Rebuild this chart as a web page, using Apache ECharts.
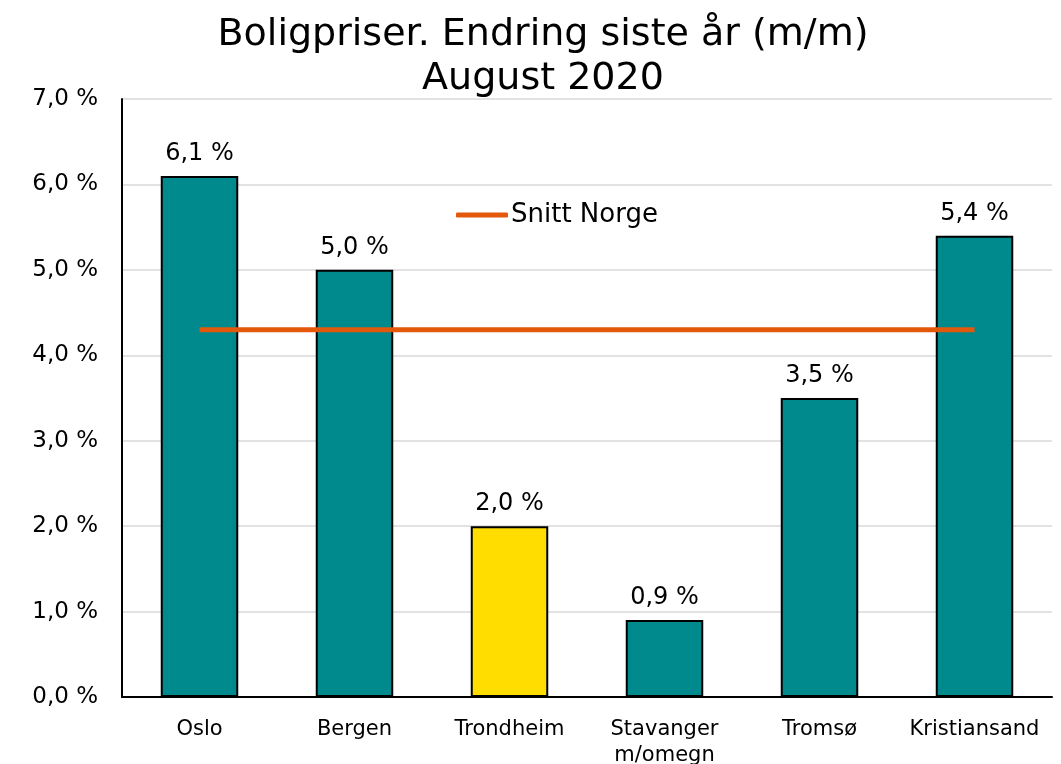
<!DOCTYPE html>
<html>
<head>
<meta charset="utf-8">
<script src="https://cdn.jsdelivr.net/npm/echarts@6/dist/echarts.min.js"></script>
<style>
  html, body { margin: 0; padding: 0; background: #fff; }
  #chart { width: 1061px; height: 764px; }
</style>
</head>
<body>
<div id="chart"></div>
<script>
const categories = ['Oslo', 'Bergen', 'Trondheim', 'Stavanger\nm/omegn', 'Tromsø', 'Kristiansand'];
const priceChange = [6.1, 5.0, 2.0, 0.9, 3.5, 5.4];
const averageNorway = [4.3, 4.3, 4.3, 4.3, 4.3, 4.3];
const highlighted = 'Trondheim';

const font = 'DejaVu Sans, Verdana, sans-serif';
const teal = '#008A8E';
const yellow = '#FFDD00';
const orange = '#E4580C';

function pct(v) {
  return v.toFixed(1).replace('.', ',') + ' %';
}

const chart = echarts.init(document.getElementById('chart'));

chart.setOption({
  animation: false,
  backgroundColor: '#fff',
  title: {
    text: 'Boligpriser. Endring siste år (m/m)\nAugust 2020',
    left: 538,
    textAlign: 'center',
    top: 8,
    textStyle: {
      fontFamily: font,
      fontSize: 38,
      fontWeight: 'normal',
      color: '#000',
      lineHeight: 44
    }
  },
  legend: {
    data: ['Snitt Norge'],
    left: 451,
    top: 197,
    icon: 'roundRect',
    itemWidth: 52,
    itemHeight: 5,
    itemGap: 4,
    textStyle: { fontFamily: font, fontSize: 26, color: '#000', padding: [0, 0, 0, -2] }
  },
  grid: {
    left: 122,
    right: 9,
    top: 99,
    bottom: 67,
    containLabel: false,
    outerBoundsMode: 'none'
  },
  xAxis: {
    type: 'category',
    data: categories,
    axisLine: { lineStyle: { color: '#000', width: 2 } },
    axisTick: { show: false },
    axisLabel: {
      interval: 0,
      margin: 20,
      fontFamily: font,
      fontSize: 21,
      lineHeight: 26,
      color: '#000'
    }
  },
  yAxis: {
    type: 'value',
    min: 0,
    max: 7,
    interval: 1,
    axisLine: { show: true, lineStyle: { color: '#000', width: 2 } },
    axisTick: { show: false },
    splitLine: { lineStyle: { color: '#d9d9d9', width: 1.5 } },
    axisLabel: {
      margin: 24,
      fontFamily: font,
      fontSize: 23,
      color: '#000',
      formatter: pct
    }
  },
  series: [
    {
      name: 'Boligpriser',
      type: 'bar',
      barWidth: '50%',
      data: priceChange.map((v, i) => ({
        value: v,
        itemStyle: { color: categories[i] === highlighted ? yellow : teal }
      })),
      itemStyle: { borderColor: '#000', borderWidth: 2 },
      label: {
        show: true,
        position: 'top',
        distance: 10,
        fontFamily: font,
        fontSize: 24,
        color: '#000',
        formatter: p => pct(p.value)
      }
    },
    {
      name: 'Snitt Norge',
      type: 'line',
      data: averageNorway,
      symbol: 'none',
      color: orange,
      itemStyle: { color: orange },
      lineStyle: { color: orange, width: 5 }
    }
  ]
});
</script>
</body>
</html>
